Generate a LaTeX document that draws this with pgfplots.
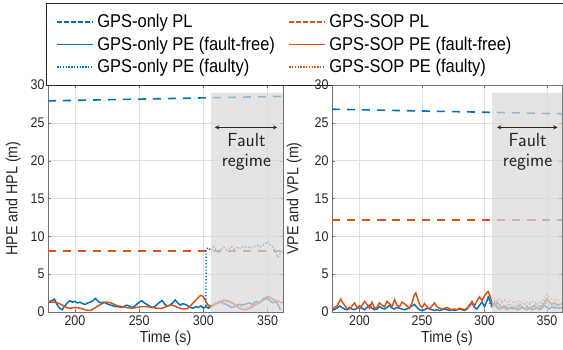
\documentclass[border=0pt]{standalone}
\usepackage{pgfplots}
\pgfplotsset{compat=1.18}
\usepackage{fontspec}
\setmainfont{Liberation Sans}[FakeStretch=0.89]
\definecolor{mblue}{RGB}{0,114,189}
\definecolor{morange}{RGB}{217,83,25}
\definecolor{mblueB}{RGB}{1,114,189}
\definecolor{morangeB}{RGB}{218,83,25}
\definecolor{mblueC}{RGB}{2,114,189}
\definecolor{morangeC}{RGB}{219,83,25}
\definecolor{sopPL}{RGB}{216,84,26}
\pgfplotsset{
 myax/.style={
   scale only axis, width=235pt, height=227pt,
   ymin=0, ymax=30,
   xtick={200,250,300,350}, ytick={0,5,...,30},
   grid=major, grid style={black!12, line width=0.6pt},
   tick align=inside, major tick length=3pt,
   axis line style={black!55}, tick style={black!55},
   every tick label/.append style={font=\fontsize{14}{16}\selectfont, text=black!85},
   label style={font=\fontsize{16}{18}\selectfont, text=black!85},
   /pgf/number format/assume math mode=true,
   xlabel={Time (s)},
   xlabel style={yshift=1pt},
 },
 myPL/.style={line width=1.6pt, dash pattern={on 8pt off 7pt}},
 myPE/.style={line width=1.5pt},
 myPEF/.style={line width=1.2pt, dotted},
}
\begin{document}
\begin{tikzpicture}
\path[use as bounding box] (0,0) rectangle (563pt,350pt);
\clip (0,0) rectangle (563pt,350pt);
% ---------------- left axis ----------------
\begin{axis}[myax, at={(48pt,38pt)}, anchor=south west,
  xmin=179, xmax=362,
  ylabel={HPE and HPL (m)}, ylabel style={yshift=3pt},
  legend columns=2, legend cell align=left,
  legend style={at={(axis description cs:-0.0085,1.361)}, anchor=north west,
    draw=black!85, line width=0.8pt, fill=white,
    font=\fontsize{18.5}{20}\selectfont, inner ysep=7pt, inner xsep=10pt,
    nodes={inner ysep=3.85pt, inner xsep=3.5pt},
    /tikz/every even column/.append style={column sep=10pt}},
  legend image code/.code={\path (0pt,0pt) -- (36pt,0pt);\draw[#1] (0pt,0pt) -- (33pt,0pt);},
]
\addlegendimage{draw=mblueC, color=mblueC, line width=1.5pt, dash pattern={on 4.5pt off 2.5pt}}
\addlegendentry{GPS-only PL}
\addlegendimage{draw=morangeC, color=morangeC, line width=1.5pt, dash pattern={on 4.5pt off 2.5pt}}
\addlegendentry{GPS-SOP PL}
\addlegendimage{draw=mblue, line width=1.5pt}
\addlegendentry{GPS-only PE (fault-free)}
\addlegendimage{draw=morange, line width=1.5pt}
\addlegendentry{GPS-SOP PE (fault-free)\hspace*{60pt}}
\addlegendimage{draw=mblueB, color=mblueB, line width=1.4pt, dash pattern={on 1.4pt off 1.4pt}}
\addlegendentry{GPS-only PE (faulty)}
\addlegendimage{draw=morangeB, color=morangeB, line width=1.4pt, dash pattern={on 1.4pt off 1.4pt}}
\addlegendentry{GPS-SOP PE (faulty)}

\addplot[draw=mblue, myPL, forget plot] coordinates {(179,27.9) (362,28.5)};
\addplot[draw=morange, myPL, forget plot] coordinates {(179,8.1) (362,8.1)};
\addplot[draw=mblue, myPE, forget plot] coordinates {
(179,1.3) (182,1.5) (184,1.7) (186,1.0) (188,0.5) (190,0.3) (192,0.8) (194,1.2) (196,1.5) (198,1.3)
(200,1.4) (202,1.2) (204,1.3) (206,1.1) (208,1.0) (210,1.2) (212,1.3) (214,1.5) (216,1.8) (218,1.4)
(220,1.2) (222,1.3) (224,1.2) (226,1.0) (228,0.9) (230,0.8) (232,0.7) (234,0.7) (236,0.6) (238,0.7)
(240,0.9) (242,0.8) (244,0.6) (246,0.7) (248,1.0) (250,1.3) (252,1.5) (254,1.2) (256,1.0) (258,0.8)
(260,0.6) (262,0.7) (264,1.0) (266,1.3) (268,1.5) (270,1.0) (272,0.8) (274,0.9) (276,1.2) (278,1.6)
(280,1.2) (282,0.9) (284,1.1) (286,1.0) (288,0.8) (290,0.6) (292,0.5) (294,0.7) (296,0.6) (298,0.8)
(300,0.5) (302,0.7) (304,0.5) (306,0.8) (308,0.9) (310,1.1) (312,1.2) (314,1.3) (316,1.1) (318,1.0)
(320,0.8) (322,0.6) (324,0.7) (326,0.9) (328,1.0) (330,0.9) (332,1.0) (334,1.1) (336,1.2) (338,1.0)
(340,1.3) (342,1.4) (344,1.2) (346,1.5) (348,1.7) (350,1.8) (352,1.5) (354,1.2) (356,1.4) (358,1.0) (360,0.3)};
\addplot[draw=morange, myPE, forget plot, smooth] coordinates {
(179,1.3) (184,1.3) (188,1.1) (192,0.7) (196,0.5) (200,0.6) (204,0.5) (208,0.3) (212,0.2) (216,0.6)
(220,1.0) (224,1.3) (228,1.2) (232,0.9) (236,0.7) (240,0.6) (244,0.5) (248,0.6) (252,0.7) (256,0.7)
(260,0.6) (264,0.5) (268,0.5) (272,0.8) (276,0.9) (280,0.6) (284,0.4) (288,0.5) (292,1.2) (296,1.9)
(298,2.2) (300,2.0) (302,1.4) (304,0.8) (306,0.7) (308,0.9) (312,1.3) (316,1.5) (320,1.4) (324,1.0)
(328,0.5) (332,0.3) (336,0.5) (340,0.9) (344,1.3) (348,1.9) (350,2.0) (352,1.9) (356,1.5) (360,1.3) (362,1.2)};
\addplot[draw=mblueB, myPEF, line width=1.5pt, forget plot] coordinates {
(302,0.8) (302.1,8.3) (304,8.5) (306,8.1) (308,8.6) (310,8.2) (312,7.8) (314,8.3) (316,8.5) (318,8.2)
(320,8.4) (322,8.6) (324,8.3) (326,8.5) (328,8.4) (330,8.6) (332,8.7) (334,8.5) (336,8.6) (338,8.5)
(340,8.7) (342,8.8) (344,8.6) (346,8.8) (348,9.0) (350,9.3) (352,8.9) (354,8.6) (356,8.0) (358,7.2) (360,7.8) (362,8.0)};
\addplot[draw=morangeB, myPEF, forget plot] coordinates {
(304,0.9) (308,1.1) (312,1.5) (316,1.7) (320,1.5) (324,1.1) (328,0.7) (332,0.6) (336,0.7) (340,1.0)
(344,1.4) (348,2.0) (352,2.0) (356,1.6) (360,1.4)};
\addplot[fill=black!15, fill opacity=0.7, draw=none, forget plot] coordinates {(306,0) (362,0) (362,29) (306,29) (306,0)};
\draw[<->, >=stealth, line width=0.9pt, black!85] (axis cs:309,24.4) -- (axis cs:357.5,24.4);
\node[align=center, font=\fontsize{19}{20}\sffamily, text=black!85] at (axis cs:333.5,21.2) {Fault\\regime};
\end{axis}
% ---------------- right axis ----------------
\begin{axis}[myax, at={(332pt,38pt)}, anchor=south west, width=230pt,
  xmin=178, xmax=362,
  ylabel={VPE and VPL (m)}, ylabel style={yshift=6pt},
]
\addplot[draw=mblueC, myPL] coordinates {(178,26.8) (362,26.2)};
\addplot[color=sopPL, line width=1.7pt, dash pattern={on 8pt off 7pt}] coordinates {(178,12.15) (220,12.15) (260,12.15) (300,12.15) (340,12.15) (362,12.15)};
\addplot[draw=mblue, myPE] coordinates {
(178,0.2) (182,0.5) (184,0.8) (186,0.6) (188,0.4) (190,0.3) (192,0.6) (194,0.4) (196,0.3) (198,0.5)
(200,0.8) (202,0.5) (204,0.3) (206,0.6) (208,0.9) (210,0.5) (212,0.3) (214,0.4) (216,0.7) (218,0.5)
(220,0.4) (222,0.6) (224,0.9) (226,0.5) (228,0.4) (230,0.6) (232,0.5) (234,0.4) (236,0.3) (238,0.4)
(240,0.6) (242,0.8) (244,1.0) (246,0.6) (248,0.3) (250,0.2) (252,0.3) (254,0.5) (256,0.4) (258,0.3)
(260,0.2) (262,0.3) (264,0.2) (266,0.3) (268,0.4) (270,0.3) (272,0.2) (274,0.3) (276,0.2) (278,0.3)
(280,0.4) (282,0.3) (284,0.2) (286,0.4) (288,0.8) (290,1.2) (292,0.6) (294,0.4) (296,0.9) (298,1.3)
(300,0.7) (302,1.5) (303,2.0) (304,1.6) (306,0.8) (308,1.2) (310,0.6) (312,0.4) (314,0.7) (316,0.5)
(318,0.3) (320,0.6) (322,0.4) (324,0.5) (326,0.3) (328,0.4) (330,0.6) (332,0.4) (334,0.3) (336,0.5)
(338,0.3) (340,0.4) (342,0.6) (344,0.3) (346,0.5) (348,0.9) (350,0.6) (352,0.4) (354,0.7) (356,0.5)
(358,0.6) (360,0.5) (362,0.6)};
\addplot[draw=morange, myPE] coordinates {
(178,0.4) (182,0.8) (184,1.4) (185,1.7) (186,1.4) (188,0.9) (190,0.5) (192,0.4) (194,0.8) (196,1.2)
(198,0.6) (200,0.4) (202,0.9) (204,1.4) (206,1.0) (208,0.5) (210,1.3) (212,0.5) (214,0.6) (216,1.2)
(218,0.9) (220,0.7) (222,1.4) (224,1.1) (226,0.7) (228,1.6) (230,0.9) (232,0.7) (234,1.3) (236,1.1)
(238,0.8) (240,0.5) (242,1.2) (244,2.3) (245,2.5) (246,2.0) (248,1.0) (250,0.6) (252,1.1) (254,0.7)
(256,0.4) (258,0.8) (260,1.2) (262,0.7) (264,0.5) (266,0.4) (268,0.5) (270,0.6) (272,0.4) (274,0.3)
(276,0.4) (278,0.3) (280,0.5) (282,0.4) (284,0.3) (286,0.5) (288,0.9) (290,1.4) (292,0.8) (294,1.5)
(296,2.0) (298,1.5) (300,2.1) (302,2.6) (303,2.7) (304,2.3) (306,1.3) (308,0.8) (310,1.3) (312,0.9)
(314,0.5) (316,0.8) (318,0.6) (320,0.5) (322,0.7) (324,0.5) (326,0.6) (328,0.8) (330,0.6) (332,0.4)
(334,0.7) (336,0.5) (338,0.6) (340,0.9) (342,0.5) (344,0.6) (346,0.8) (348,1.2) (350,1.8) (352,1.3)
(354,1.0) (356,1.2) (358,0.9) (360,1.0) (362,1.1)};
\addplot[draw=mblueB, myPEF] coordinates {
(304,1.2) (306,0.5) (308,1.4) (310,0.7) (312,0.9) (314,1.3) (316,0.6) (318,0.9) (320,1.1) (322,0.6)
(324,1.0) (326,0.8) (328,1.2) (330,0.7) (332,1.0) (334,0.8) (336,1.1) (338,0.6) (340,0.9) (342,1.1)
(344,0.7) (346,1.0) (348,1.5) (350,1.2) (352,0.8) (354,1.0) (356,0.7) (358,0.9) (360,0.8)};
\addplot[draw=morangeB, myPEF] coordinates {
(304,2.0) (306,1.6) (308,1.8) (310,1.5) (312,1.7) (314,1.4) (316,1.6) (318,1.3) (320,1.5) (322,1.4)
(324,1.2) (326,1.3) (328,1.5) (330,1.2) (332,1.1) (334,1.3) (336,1.2) (338,1.4) (340,1.2) (342,1.3)
(344,1.1) (346,1.5) (348,2.0) (350,2.3) (352,2.0) (354,1.6) (356,1.7) (358,1.5) (360,1.6)};
\addplot[fill=black!15, fill opacity=0.7, draw=none] coordinates {(306,0) (362,0) (362,29) (306,29) (306,0)};
\draw[<->, >=stealth, line width=0.9pt, black!85] (axis cs:310,24.4) -- (axis cs:358.5,24.4);
\node[align=center, font=\fontsize{19}{20}\sffamily, text=black!85] at (axis cs:334.5,21.2) {Fault\\regime};
\end{axis}
\end{tikzpicture}
\end{document}
